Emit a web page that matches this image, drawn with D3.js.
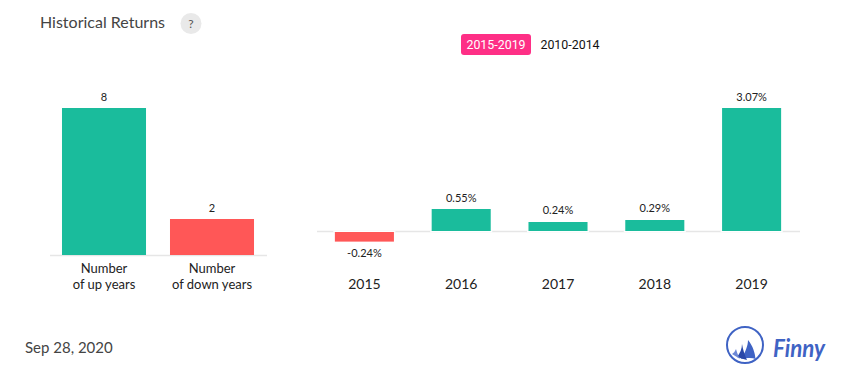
<!DOCTYPE html>
<html>
<head>
<meta charset="utf-8">
<script src="https://cdn.jsdelivr.net/npm/d3@7/dist/d3.min.js"></script>
<style>
  html, body { margin: 0; padding: 0; background: #fff; }
  svg { display: block; }
  text { font-family: Lato, sans-serif; }
</style>
</head>
<body>
<div id="chart"></div>
<script>
// data
const countLabels = [["Number", "of up years"], ["Number", "of down years"]];
const countValues = [8, 2];
const years = ["2015", "2016", "2017", "2018", "2019"];
const returns = [-0.24, 0.55, 0.24, 0.29, 3.07];
const periods = ["2015-2019", "2010-2014"];

const GREEN = "#1abc9c", RED = "#ff5757", AXIS = "#e6e6e6", BLUE = "#3f63c4";

const svg = d3.select("#chart").append("svg")
    .attr("width", 855)
    .attr("height", 382);

// header
svg.append("text").attr("x", 40).attr("y", 28)
    .attr("font-size", 16).attr("fill", "#444").text("Historical Returns");
svg.append("circle").attr("cx", 191).attr("cy", 23.5).attr("r", 10.5).attr("fill", "#e9e9e9");
svg.append("text").attr("x", 191).attr("y", 28).attr("text-anchor", "middle")
    .attr("font-size", 12).attr("fill", "#555").text("?");

// period switch
svg.append("rect").attr("x", 461).attr("y", 34).attr("width", 70).attr("height", 21)
    .attr("rx", 3).attr("fill", "#fe2f86");
svg.append("text").attr("x", 496).attr("y", 49).attr("text-anchor", "middle")
    .style("font-family", "Roboto").attr("font-size", 12.4).attr("fill", "#fff").text(periods[0]);
svg.append("text").attr("x", 570).attr("y", 49).attr("text-anchor", "middle")
    .style("font-family", "Roboto").attr("font-size", 12.4).attr("fill", "#111").text(periods[1]);

// left chart: up / down year counts
const xCount = d3.scaleBand().domain(d3.range(countValues.length))
    .range([50, 266]).paddingInner(0.222).paddingOuter(0.111);
const yCount = d3.scaleLinear().domain([0, 8]).range([255, 108]);

svg.append("line").attr("x1", 50).attr("x2", 267).attr("y1", 255.5).attr("y2", 255.5)
    .attr("stroke", AXIS).attr("stroke-width", 1.5);

svg.append("g").selectAll("rect").data(countValues).join("rect")
    .attr("x", (d, i) => xCount(i))
    .attr("width", xCount.bandwidth())
    .attr("y", d => Math.ceil(yCount(d)))
    .attr("height", d => yCount(0) - Math.ceil(yCount(d)))
    .attr("fill", (d, i) => i == 0 ? GREEN : RED);

svg.append("g").selectAll("text").data(countValues).join("text")
    .attr("x", (d, i) => xCount(i) + xCount.bandwidth() / 2)
    .attr("y", d => Math.ceil(yCount(d)) - 7)
    .attr("text-anchor", "middle")
    .attr("font-size", 11).attr("fill", "#222")
    .text(d => d);

svg.append("g").selectAll("text").data(countLabels).join("text")
    .attr("text-anchor", "middle")
    .attr("font-size", 13).attr("fill", "#222")
    .each(function (d, i) {
        d3.select(this).selectAll("tspan").data(d).join("tspan")
            .attr("x", xCount(i) + xCount.bandwidth() / 2)
            .attr("y", (t, j) => 273 + j * 16)
            .text(t => t);
    });

// right chart: yearly returns
const xYear = d3.scaleBand().domain(years)
    .range([316, 800]).paddingInner(0.39).paddingOuter(0.195);
const yRet = d3.scaleLinear().domain([0, 3.07]).range([231, 108]);

svg.append("line").attr("x1", 317).attr("x2", 800).attr("y1", 231.5).attr("y2", 231.5)
    .attr("stroke", AXIS).attr("stroke-width", 1.5);

const rows = years.map((y, i) => ({ year: y, value: returns[i] }));

// white gap around the bars where they meet the axis line
svg.append("g").selectAll("line").data(rows).join("line")
    .attr("x1", d => xYear(d.year) - 1.5)
    .attr("x2", d => xYear(d.year) + xYear.bandwidth() + 1.5)
    .attr("y1", 231.5).attr("y2", 231.5)
    .attr("stroke", "#fff").attr("stroke-width", 1.5);

svg.append("g").selectAll("rect").data(rows).join("rect")
    .attr("x", d => xYear(d.year))
    .attr("width", xYear.bandwidth())
    .attr("y", d => d.value > 0 ? Math.ceil(yRet(d.value)) : yRet(0) + 1)
    .attr("height", d => d.value > 0 ? yRet(0) - Math.ceil(yRet(d.value)) : yRet(d.value) - yRet(0))
    .attr("fill", d => d.value > 0 ? GREEN : RED);

svg.append("g").selectAll("text").data(rows).join("text")
    .attr("x", d => xYear(d.year) + xYear.bandwidth() / 2)
    .attr("y", d => d.value > 0 ? yRet(d.value) - 7 : yRet(d.value) + 16.5)
    .attr("text-anchor", "middle")
    .attr("font-size", 11).attr("fill", "#222")
    .text(d => d.value.toFixed(2) + "%");

svg.append("g")
    .attr("transform", "translate(0,289)")
    .call(d3.axisBottom(xYear).tickSize(0).tickPadding(0))
    .call(g => g.select(".domain").remove())
    .call(g => g.selectAll("text")
        .attr("y", 0).attr("dy", 0)
        .style("font-family", "Lato").attr("font-size", 14).attr("fill", "#222"));

// date
svg.append("text").attr("x", 25).attr("y", 353)
    .attr("font-size", 15).attr("fill", "#444").text("Sep 28, 2020");

// logo
const logo = svg.append("g").attr("transform", "translate(745,345)");
logo.append("circle").attr("r", 18).attr("fill", "none").attr("stroke", BLUE).attr("stroke-width", 2);
logo.append("path").attr("fill", BLUE)
    .attr("d", "M3,-5 C8,1 10,8 10.5,14 C7,12.5 2,13 -4,14 C0,8 3,1 3,-5Z");
logo.append("path").attr("fill", "#2a48a8")
    .attr("d", "M-3,-1 C-2,5 0,11 2,15 C-2,14 -5,13 -8,12 C-5,8 -3,4 -3,-1Z");
logo.append("path").attr("fill", "#6d88d6")
    .attr("d", "M-9,4 C-8,7 -7,11 -5,14 C-8,12 -11,10 -13,9 C-11,8 -10,6 -9,4Z");
svg.append("text").attr("x", 773).attr("y", 357)
    .attr("font-size", 25).attr("font-weight", 700).attr("font-style", "italic")
    .attr("textLength", 52).attr("lengthAdjust", "spacingAndGlyphs")
    .style("font-family", "Lato").attr("fill", BLUE).text("Finny");
</script>
</body>
</html>
